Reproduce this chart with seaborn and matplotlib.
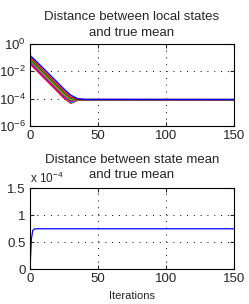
import matplotlib
matplotlib.use("Agg")
import matplotlib.pyplot as plt
import matplotlib.ticker as mticker
import pandas as pd
import seaborn as sns

iters_local = [0, 10, 20, 25, 30, 35, 40, 150]
local_err = {
    "n1": [3.5e-2, 3.5e-3, 3.5e-4, 1.1e-4, 4.5e-5, 7.5e-5, 8.4e-5, 8.5e-5],
    "n2": [5.0e-2, 5.0e-3, 5.0e-4, 1.5e-4, 5.0e-5, 7.8e-5, 8.5e-5, 8.5e-5],
    "n3": [4.2e-2, 4.2e-3, 4.3e-4, 1.4e-4, 6.0e-5, 8.0e-5, 8.5e-5, 8.5e-5],
    "n4": [6.0e-2, 6.0e-3, 6.0e-4, 1.9e-4, 7.5e-5, 8.3e-5, 8.5e-5, 8.5e-5],
    "n5": [7.0e-2, 6.5e-3, 6.5e-4, 2.1e-4, 8.5e-5, 8.5e-5, 8.5e-5, 8.5e-5],
    "n6": [8.0e-2, 8.0e-3, 8.0e-4, 2.6e-4, 1.0e-4, 8.6e-5, 8.5e-5, 8.5e-5],
    "n7": [1.1e-1, 1.1e-2, 1.1e-3, 3.5e-4, 1.3e-4, 9.0e-5, 8.6e-5, 8.5e-5],
    "n8": [1.5e-1, 1.6e-2, 1.6e-3, 5.0e-4, 1.8e-4, 1.0e-4, 8.8e-5, 8.6e-5],
}
node_colors = ["#ff0000", "#00bfbf", "#bf00bf", "#404040", "#bfbf00",
               "#008000", "#ff0000", "#0000ff"]

# distance between the mean of the states and the true mean
iters_mean = [0, 1, 2, 3, 5, 150]
mean_err = [0.0, 0.55e-4, 0.71e-4, 0.74e-4, 0.745e-4, 0.745e-4]

sns.set_style("ticks")
plt.rcParams["font.family"] = ["Liberation Sans", "DejaVu Sans"]
plt.rcParams["font.size"] = 9.5
plt.rcParams["mathtext.fontset"] = "custom"
plt.rcParams["mathtext.rm"] = "Liberation Sans"
plt.rcParams["mathtext.it"] = "Liberation Sans"

fig = plt.figure(figsize=(2.49, 3.04), dpi=100)
ax1 = fig.add_axes([0.1205, 0.5855, 0.819, 0.2697])
ax2 = fig.add_axes([0.1205, 0.1151, 0.819, 0.2664])

df_local = pd.DataFrame(local_err, index=iters_local)
df_local.index.name = "iter"
df_local = df_local.reset_index().melt("iter", var_name="node", value_name="err")
sns.lineplot(data=df_local, x="iter", y="err", hue="node",
             palette=node_colors, linewidth=1.0, legend=False, ax=ax1)
ax1.set_yscale("log")
ax1.set_xlim(0, 150)
ax1.set_ylim(1e-6, 1e0)
ax1.yaxis.set_major_locator(mticker.FixedLocator([1e-6, 1e-4, 1e-2, 1e0]))
ax1.yaxis.set_minor_locator(mticker.NullLocator())
ax1.set_title("Distance between local states\nand true mean", fontsize=9.5, pad=6,
              linespacing=1.4)

df_mean = pd.DataFrame({"iter": iters_mean, "err": mean_err})
sns.lineplot(data=df_mean, x="iter", y="err", color="#0000ff", linewidth=0.9, ax=ax2)
ax2.set_xlim(0, 150)
ax2.set_ylim(0, 1.5e-4)
ax2.set_yticks([0, 0.5e-4, 1e-4, 1.5e-4])
ax2.yaxis.set_major_formatter(mticker.FuncFormatter(lambda v, p: f"{v*1e4:g}"))
ax2.text(0.0, 1.03, r"x 10$^{-4}$", transform=ax2.transAxes, fontsize=8.5, va="bottom")
ax2.set_title("Distance between state mean\nand true mean", fontsize=9.5, pad=7,
              linespacing=1.4)
ax2.set_xlabel("Iterations", fontsize=8, labelpad=4)

for ax in (ax1, ax2):
    ax.set_xticks([0, 50, 100, 150])
    ax.set_ylabel("")
    ax.grid(True, color="black", linestyle=(0, (1, 6)), linewidth=0.7)
    ax.tick_params(direction="in", top=True, right=True, length=3, labelsize=9.5, pad=3)
    for s in ax.spines.values():
        s.set_visible(True)
        s.set_linewidth(0.8)
        s.set_color("black")
ax1.set_xlabel("")

fig.savefig("out.png", dpi=100)
